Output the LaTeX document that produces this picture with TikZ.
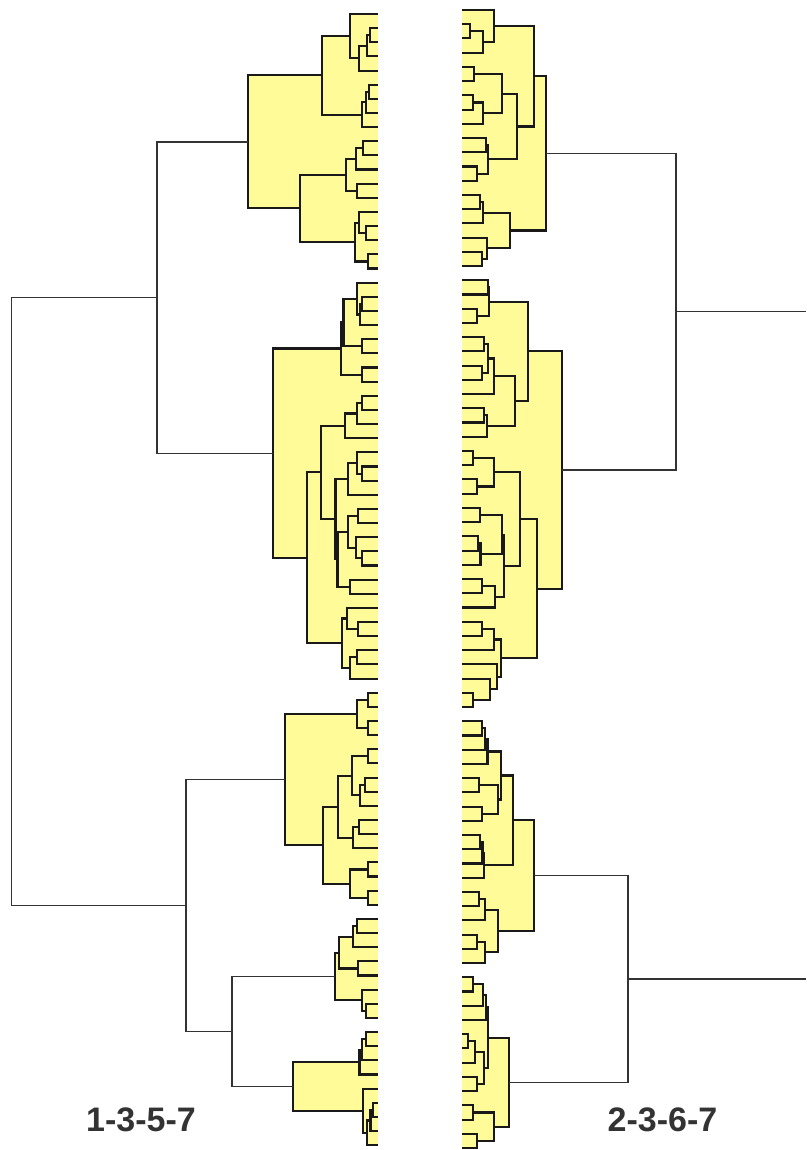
\documentclass[tikz,border=0pt]{standalone}
\usepackage{fontspec}
\setmainfont{Liberation Sans}
\usetikzlibrary{calc}
\pgfdeclarelayer{bg}
\pgfsetlayers{bg,main}
\definecolor{yel}{RGB}{255,251,153}
\definecolor{lab}{RGB}{51,51,51}
\tikzset{
  thk/.style={line width=2.1pt,draw=black!90,line join=miter},
  thn/.style={line width=1.3pt,draw=black!80},
  lbl/.style={inner sep=0pt,text=lab,font=\fontsize{34}{34}\selectfont\bfseries}
}
% yellow (cluster) node: name, x, child1, child2
\newcommand\yn[4]{%
  \coordinate (#1m) at ($(#3)!0.5!(#4)$);
  \coordinate (#1x) at (#2,0);
  \coordinate (#1) at (#1x |- #1m);
  \begin{pgfonlayer}{bg}
    \fill[yel] (#1x |- #3) rectangle (\edge |- #4);
  \end{pgfonlayer}
  \draw[thk] (#3) -| (#1x |- #4) -- (#4);
}
% thin (upper) node
\newcommand\wn[4]{%
  \coordinate (#1m) at ($(#3)!0.5!(#4)$);
  \coordinate (#1x) at (#2,0);
  \coordinate (#1) at (#1x |- #1m);
  \draw[thn] (#3) -| (#1x |- #4) -- (#4);
}
\begin{document}
\begin{tikzpicture}[x=1pt,y=-1pt]
\useasboundingbox (0,0) rectangle (806,1150);
\coordinate (EL) at (378,0);
\coordinate (ER) at (462,0);
\coordinate (RE) at (806,0);
\foreach \k in {0,...,80}{
  \coordinate (L\k) at (378,{14+14.14*\k});
  \coordinate (R\k) at (462,{10+14.225*\k});
}
% ================= LEFT TREE =================
\def\edge{EL}
% A1
\yn{a1}{370}{L1}{L2}
\yn{a2}{367}{a1}{L3}
\yn{a3}{359}{a2}{L4}
\yn{a4}{350}{L0}{a3}
\yn{a5}{369}{L5}{L6}
\yn{a6}{366}{a5}{L7}
\yn{a7}{362}{a6}{L8}
\yn{a8}{322}{a4}{a7}
\yn{a9}{363}{L9}{L10}
\yn{a10}{356}{a9}{L11}
\yn{a11}{357}{L12}{L13}
\yn{a12}{346}{a10}{a11}
\yn{a13}{366}{L15}{L16}
\yn{a14}{359}{L14}{a13}
\yn{a15}{368}{L17}{L18}
\yn{a16}{355}{a14}{a15}
\yn{a17}{300}{a12}{a16}
\yn{A1}{248}{a8}{a17}
% A2
\yn{b1}{362}{L20}{L21}
\yn{b2}{360}{b1}{L22}
\yn{b3}{357}{L19}{b2}
\yn{b4}{362}{L23}{L24}
\yn{b5}{362}{L25}{L26}
\yn{b6}{343.5}{b3}{b4}
\yn{b7}{341}{b6}{b5}
\yn{b8}{362}{L27}{L28}
\yn{b9}{357}{b8}{L29}
\yn{b10}{345}{b9}{L30}
\yn{b11}{362}{L32}{L33}
\yn{b12}{357}{L31}{b11}
\yn{b13}{348}{b12}{L34}
\yn{b14}{358}{L35}{L36}
\yn{b15}{362}{L38}{L39}
\yn{b16}{356}{L37}{b15}
\yn{b17}{348}{b14}{b16}
\yn{b18}{350}{L40}{L41}
\yn{b19}{337.5}{b17}{b18}
\yn{b20}{335.5}{b13}{b19}
\yn{b21}{320.7}{b10}{b20}
\yn{b22}{358}{L43}{L44}
\yn{b23}{346.7}{L42}{b22}
\yn{b24}{357}{L45}{L46}
\yn{b25}{350}{b24}{L47}
\yn{b26}{341.7}{b23}{b25}
\yn{b27}{306.7}{b21}{b26}
\yn{A2}{272.7}{b7}{b27}
% B1
\yn{c1}{368}{L48}{L49}
\yn{c2}{368}{L50}{L51}
\yn{c3}{357.3}{c1}{c2}
\yn{c4}{368}{L52}{L53}
\yn{c5}{365}{L54}{L55}
\yn{c6}{360}{c5}{L56}
\yn{c7}{351.7}{c4}{c6}
\yn{c8}{359.3}{L57}{L58}
\yn{c9}{353.3}{c8}{L59}
\yn{c10}{338.3}{c7}{c9}
\yn{c11}{368}{L60}{L61}
\yn{c12}{368}{L62}{L63}
\yn{c13}{350}{c11}{c12}
\yn{c14}{322.7}{c10}{c13}
\yn{B1}{285}{c3}{c14}
% B2
\yn{d1}{357}{L64}{L65}
\yn{d2}{353.3}{d1}{L66}
\yn{d3}{358.3}{L67}{L68}
\yn{d4}{339.3}{d2}{d3}
\yn{d5}{366}{L70}{L71}
\yn{d6}{361.7}{L69}{d5}
\yn{B2}{335}{d4}{d6}
% B3
\yn{e1}{366}{L72}{L73}
\yn{e2}{361.7}{e1}{L74}
\yn{e3}{359.5}{e2}{L75}
\yn{e4}{373}{L77}{L78}
\yn{e5}{370.5}{e4}{L79}
\yn{e6}{367.3}{e5}{L80}
\yn{e7}{363.3}{L76}{e6}
\yn{B3}{292.7}{e3}{e7}
% upper left
\wn{C}{232}{B2}{B3}
\wn{B}{186}{B1}{C}
\wn{A}{157}{A1}{A2}
\wn{root}{11.5}{A}{B}
% ================= RIGHT TREE =================
\def\edge{ER}
% R1
\yn{f1}{470}{R1}{R2}
\yn{f2}{483.3}{f1}{R3}
\yn{f3}{494.3}{R0}{f2}
\yn{f4}{474.3}{R4}{R5}
\yn{f5}{473.3}{R6}{R7}
\yn{f6}{483.3}{f5}{R8}
\yn{f7}{501.7}{f4}{f6}
\yn{f8}{485.7}{R9}{R10}
\yn{f9}{476.7}{R11}{R12}
\yn{f10}{488.3}{f8}{f9}
\yn{f11}{516.7}{f7}{f10}
\yn{f12}{534.3}{f3}{f11}
\yn{f13}{480}{R13}{R14}
\yn{f14}{483.3}{f13}{R15}
\yn{f15}{481.7}{R17}{R18}
\yn{f16}{487.3}{R16}{f15}
\yn{f17}{510}{f14}{f16}
\yn{RA}{546}{f12}{f17}
% R2
\yn{g1}{487.7}{R19}{R20}
\yn{g2}{476.7}{R21}{R22}
\yn{g3}{489}{g1}{g2}
\yn{g4}{484.3}{R23}{R24}
\yn{g5}{481.7}{R25}{R26}
\yn{g6}{487.7}{g4}{g5}
\yn{g7}{494.3}{g6}{R27}
\yn{g8}{484.3}{R28}{R29}
\yn{g9}{486.7}{g8}{R30}
\yn{g10}{515}{g7}{g9}
\yn{g11}{528.3}{g3}{g10}
\yn{g12}{473.3}{R31}{R32}
\yn{g13}{476.7}{R33}{R34}
\yn{g14}{494.3}{g12}{g13}
\yn{g15}{480}{R35}{R36}
\yn{g16}{477.7}{R37}{R38}
\yn{g17}{480.5}{g16}{R39}
\yn{g18}{501.7}{g15}{g17}
\yn{g19}{481.7}{R40}{R41}
\yn{g20}{495}{g19}{R42}
\yn{g21}{504.3}{g18}{g20}
\yn{g22}{520}{g14}{g21}
\yn{g23}{482}{R43}{R44}
\yn{g24}{494.3}{g23}{R45}
\yn{g25}{473.3}{R48}{R49}
\yn{g26}{490}{R47}{g25}
\yn{g27}{497}{R46}{g26}
\yn{g28}{501}{g24}{g27}
\yn{g29}{536.7}{g22}{g28}
\yn{RB}{562.3}{g11}{g29}
% R3
\yn{h1}{481.7}{R50}{R51}
\yn{h2}{485}{h1}{R52}
\yn{h3}{487.5}{h2}{R53}
\yn{h4}{479}{R54}{R55}
\yn{h5}{481.7}{R56}{R57}
\yn{h6}{497.7}{h4}{h5}
\yn{h7}{501}{h3}{h6}
\yn{h8}{480}{R58}{R59}
\yn{h9}{482.5}{h8}{R60}
\yn{h10}{484.3}{h9}{R61}
\yn{h11}{513.3}{h7}{h10}
\yn{h12}{479}{R62}{R63}
\yn{h13}{485}{h12}{R64}
\yn{h14}{477}{R65}{R66}
\yn{h15}{485}{h14}{R67}
\yn{h16}{497.7}{h13}{h15}
\yn{RC}{534.3}{h11}{h16}
% R4
\yn{i1}{473.3}{R68}{R69}
\yn{i2}{483.3}{i1}{R70}
\yn{i3}{485.7}{i2}{R71}
\yn{i4}{468.3}{R72}{R73}
\yn{i5}{475}{i4}{R74}
\yn{i6}{476.7}{R75}{R76}
\yn{i7}{484.3}{i5}{i6}
\yn{i8}{488}{i3}{i7}
\yn{i9}{473.3}{R77}{R78}
\yn{i10}{476.7}{R79}{R80}
\yn{i11}{494.3}{i9}{i10}
\yn{RD}{509}{i8}{i11}
% upper right
\wn{RAB}{676}{RA}{RB}
\wn{RCD}{628}{RC}{RD}
\draw[thn] (RAB) -- (RAB -| RE);
\draw[thn] (RCD) -- (RCD -| RE);
% labels
\node[lbl] (lab1) at (141,1120) {1-3-5-7};
\node[lbl] (lab2) at (662.5,1120) {2-3-6-7};
\end{tikzpicture}
\end{document}
